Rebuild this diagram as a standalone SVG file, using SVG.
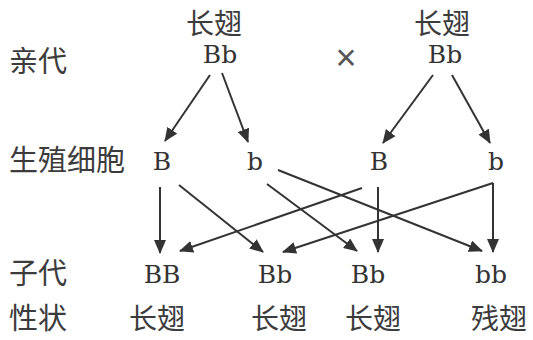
<svg xmlns="http://www.w3.org/2000/svg" width="533" height="340" viewBox="0 0 533 340">
<defs>
<style>
.cn{font-family:"Noto Sans CJK SC","Noto Sans",sans-serif;font-size:28px;fill:#3c3c3c;}
.lab{font-family:"Noto Sans CJK SC","Noto Sans",sans-serif;font-size:29px;fill:#3c3c3c;}
.g{font-family:"DejaVu Serif","Liberation Serif",serif;font-size:25px;fill:#333;text-anchor:middle;}
.c{text-anchor:middle;}
.ln{stroke:#333;stroke-width:2;fill:none;marker-end:url(#ah);}
</style>
<marker id="ah" markerUnits="userSpaceOnUse" markerWidth="14" markerHeight="12" refX="13" refY="6" orient="auto" viewBox="0 0 14 12">
<path d="M0,0 L14,6 L0,12 z" fill="#333"/>
</marker>
</defs>
<rect width="533" height="340" fill="#fff"/>
<g id="row-labels">
<text class="lab" x="9" y="72">亲代</text>
<text class="lab" x="9" y="171">生殖细胞</text>
<text class="lab" x="9" y="284">子代</text>
<text class="lab" x="9" y="329">性状</text>
</g>
<g id="parent-left">
<text class="cn c" x="214" y="34">长翅</text>
<text class="g" x="220" y="63">Bb</text>
</g>
<g id="cross">
<text x="346" y="70" font-family="Liberation Sans,sans-serif" font-size="36" fill="#555" text-anchor="middle">×</text>
</g>
<g id="parent-right">
<text class="cn c" x="442" y="34">长翅</text>
<text class="g" x="445" y="63">Bb</text>
</g>
<g id="gamete-B1"><text class="g" x="162" y="170">B</text></g>
<g id="gamete-b1"><text class="g" x="255" y="170">b</text></g>
<g id="gamete-B2"><text class="g" x="379" y="170">B</text></g>
<g id="gamete-b2"><text class="g" x="496" y="170">b</text></g>
<g id="child-BB">
<text class="g" x="162" y="283">BB</text>
<text class="cn c" x="157" y="329">长翅</text>
</g>
<g id="child-Bb1">
<text class="g" x="275" y="283">Bb</text>
<text class="cn c" x="279" y="329">长翅</text>
</g>
<g id="child-Bb2">
<text class="g" x="368" y="283">Bb</text>
<text class="cn c" x="373" y="329">长翅</text>
</g>
<g id="child-bb">
<text class="g" x="491" y="283">bb</text>
<text class="cn c" x="499" y="329">残翅</text>
</g>
<g id="connectors">
<line class="ln" x1="210" y1="75" x2="165" y2="141"/>
<line class="ln" x1="222" y1="73" x2="248" y2="142"/>
<line class="ln" x1="433" y1="75" x2="383" y2="143"/>
<line class="ln" x1="452" y1="75" x2="490" y2="143"/>
<line class="ln" x1="160" y1="187" x2="160" y2="253"/>
<line class="ln" x1="179" y1="185" x2="263" y2="252"/>
<line class="ln" x1="267" y1="184" x2="357" y2="251"/>
<line class="ln" x1="278" y1="170" x2="482" y2="251"/>
<line class="ln" x1="362" y1="188" x2="180" y2="251"/>
<line class="ln" x1="378" y1="187" x2="378" y2="252"/>
<line class="ln" x1="493" y1="183" x2="283" y2="252"/>
<line class="ln" x1="493" y1="183" x2="493" y2="252"/>
</g>
</svg>
